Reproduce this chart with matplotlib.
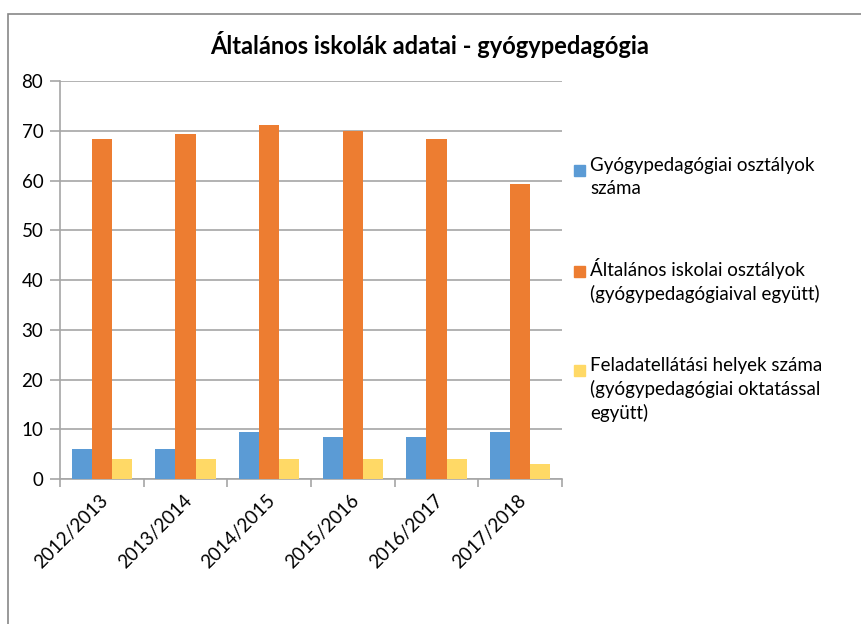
import matplotlib.pyplot as plt
import matplotlib.patches as mpatches
import numpy as np

# -- data -- #
years = ["2012/2013", "2013/2014", "2014/2015", "2015/2016", "2016/2017", "2017/2018"]
gyogy_osztaly = [6, 6, 9.4, 8.4, 8.4, 9.4]
altalanos_osztaly = [68.3, 69.3, 71.1, 70, 68.3, 59.2]
feladat_helyek = [4.1, 4.1, 4.1, 4.1, 4.1, 3.1]

series_labels = [
    "Gyógypedagógiai osztályok\nszáma",
    "Általános iskolai osztályok\n(gyógypedagógiaival együtt)",
    "Feladatellátási helyek száma\n(gyógypedagógiai oktatással\negyütt)",
]
colors = ["#5B9BD5", "#ED7D31", "#FFD966"]

plt.rcParams['font.family'] = ['Lato', 'DejaVu Sans']
W, H = 861, 624
fig = plt.figure(figsize=(W / 100, H / 100), dpi=100)

# outer chart border (runs off right/bottom edge like the reference)
fig.patches.append(mpatches.Rectangle((8 / W, -0.05), 1.2, 1 - 14 / H + 0.05,
                                      transform=fig.transFigure, fill=False,
                                      edgecolor="#878787", linewidth=1.2))

ax = fig.add_axes([60 / W, 1 - 479 / H, (562 - 60) / W, (479 - 81) / H])

x = np.arange(len(years))
bw = 0.24
for k, (vals, c) in enumerate(zip([gyogy_osztaly, altalanos_osztaly, feladat_helyek], colors)):
    ax.bar(x + (k - 1) * bw, vals, width=bw, color=c, zorder=3)

ax.set_xlim(-0.5, len(years) - 0.5)
ax.set_ylim(0, 80)
ax.set_yticks(range(0, 81, 10))
ax.yaxis.grid(True, color="#a6a6a6", linewidth=1.2, zorder=0)

for s in ["top", "right"]:
    ax.spines[s].set_visible(False)
for s in ["left", "bottom"]:
    ax.spines[s].set_color("#a6a6a6")
    ax.spines[s].set_linewidth(1.2)

ax.tick_params(axis="y", length=7, color="#a6a6a6", width=1.2, labelsize=13.5, pad=5)
ax.set_xticks(np.arange(len(years) + 1) - 0.5)
ax.set_xticklabels([])
ax.tick_params(axis="x", length=6, color="#a6a6a6", width=1.2)

for i, yr in enumerate(years):
    ax.annotate(yr, (i, 0), xycoords="data", xytext=(-2, -9), textcoords="offset points",
                rotation=45, ha="right", va="top", rotation_mode="anchor", fontsize=13.5)

fig.text(430 / W, 1 - 44 / H, "Általános iskolák adatai - gyógypedagógia",
         ha="center", va="center", fontsize=17, fontweight="bold")

# legend
leg_y = [170, 271, 370]
for lab, c, yy in zip(series_labels, colors, leg_y):
    fig.patches.append(mpatches.Rectangle((574 / W, 1 - (yy + 6) / H), 11 / W, 11 / H,
                                          transform=fig.transFigure, color=c))
    fig.text(590 / W, 1 - (yy - 13) / H, lab, ha="left", va="top", fontsize=13.5,
             linespacing=1.4)

fig.savefig("out.png", dpi=100)
